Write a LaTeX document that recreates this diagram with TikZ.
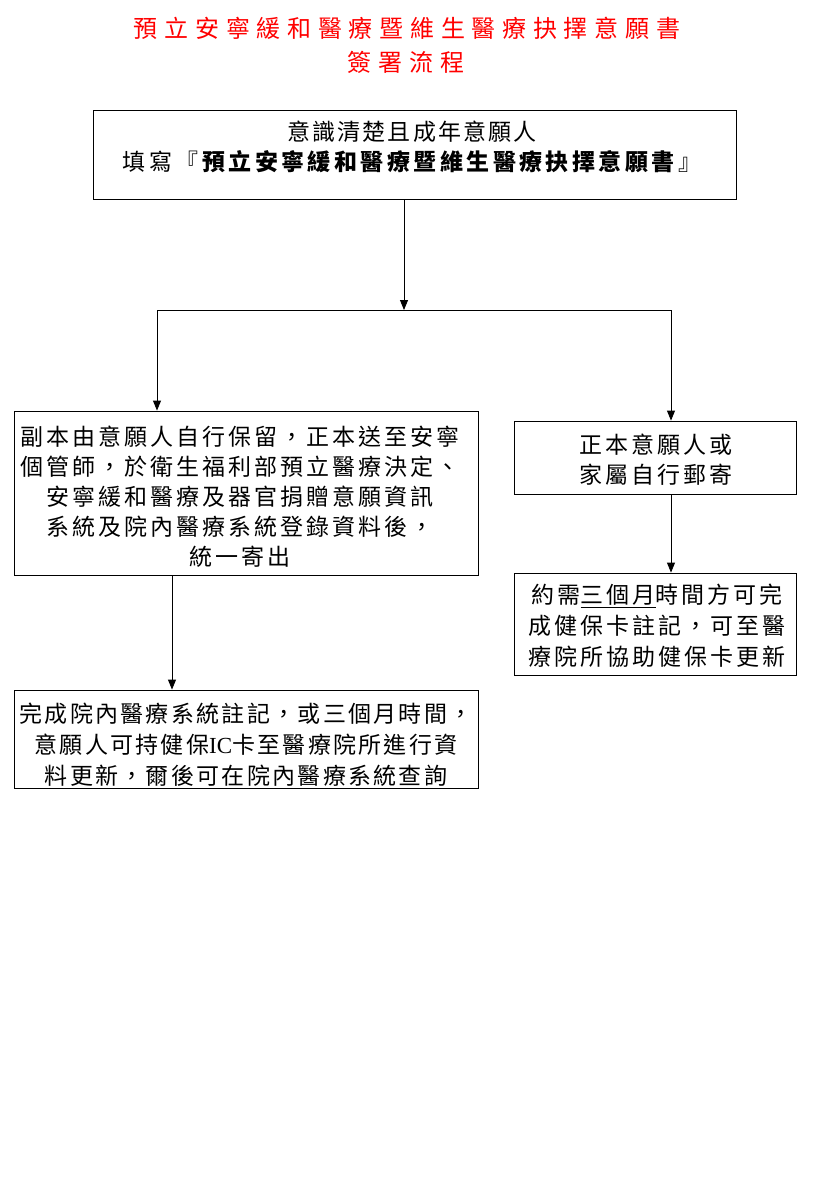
\documentclass[tikz,border=0pt]{standalone}
\usepackage{fontspec}
\usetikzlibrary{arrows.meta}
\setmainfont{Noto Sans CJK TC}
\newfontfamily\cjkttl[LetterSpace=28]{Noto Sans CJK TC}
\newfontfamily\cjka[LetterSpace=13]{Noto Sans CJK TC}
\newfontfamily\cjkb[LetterSpace=10]{Noto Sans CJK TC}
\newfontfamily\cjkc[LetterSpace=9]{Noto Sans CJK TC}
\newfontfamily\cjkd[LetterSpace=15]{Noto Sans CJK TC}
\newfontfamily\latinserif{Liberation Serif}
\definecolor{titlered}{RGB}{255,0,0}
\begin{document}
\begin{tikzpicture}[x=1pt,y=-1pt,
  box/.style={draw,line width=0.85pt,inner sep=0pt},
  txt/.style={inner sep=0pt,align=center},
  ttl/.style={text=titlered,align=center,inner sep=0pt,
    font=\cjkttl\fontsize{24}{34}\selectfont},
  arr/.style={line width=0.85pt,-{Triangle[width=8pt,length=10pt]}},
  conn/.style={line width=0.85pt}]
\useasboundingbox (0,0) rectangle (840,1200);
% title
\node[ttl] (t1) at (407,28) {預立安寧緩和醫療暨維生醫療抉擇意願書};
\node[ttl] (t2) at (406,62) {簽署流程};
% boxes
\node[box,minimum width=643pt,minimum height=89pt] (b1) at (414.5,154.5) {};
\node[txt,font=\cjkc\fontsize{23}{30}\selectfont] (b1t) at (412,147)
  {意識清楚且成年意願人\\
   {\cjkd 填寫『\textbf{預立安寧緩和醫療暨維生醫療抉擇意願書}』}};
\node[box,minimum width=464pt,minimum height=164pt] (L1) at (246,493) {};
\node[txt,font=\cjka\fontsize{23}{30}\selectfont] (L1t) at (240,497)
  {副本由意願人自行保留，正本送至安寧\\
   個管師，於衛生福利部預立醫療決定、\\
   安寧緩和醫療及器官捐贈意願資訊\\
   系統及院內醫療系統登錄資料後，\\
   統一寄出};
\node[box,minimum width=282pt,minimum height=73pt] (R1) at (655,457.5) {};
\node[txt,font=\cjka\fontsize{23}{30}\selectfont] (R1t) at (656,460)
  {正本意願人或\\家屬自行郵寄};
\node[box,minimum width=282pt,minimum height=102pt] (R2) at (655,624) {};
\node[txt,font=\cjka\fontsize{23}{31}\selectfont] (R2t) at (657,626)
  {約需\underline{三個月}時間方可完\\成健保卡註記，可至醫\\療院所協助健保卡更新};
\node[box,minimum width=464pt,minimum height=98pt] (L2) at (246,739) {};
\node[txt,font=\cjkb\fontsize{23}{31}\selectfont] (L2t) at (246,745)
  {完成院內醫療系統註記，或三個月時間，\\
   意願人可持健保{\latinserif IC}卡至醫療院所進行資\\
   料更新，爾後可在院內醫療系統查詢};
% connectors
\coordinate (J) at (404,310);
\coordinate (JL) at (157,310);
\coordinate (JR) at (671,310);
\coordinate (K) at (172,600);
\draw[arr] (J |- b1.south) -- (J);
\draw[conn] (JL) -- (JR);
\draw[arr] (JL) -- (JL |- L1.north);
\draw[arr] (JR) -- (JR |- R1.north);
\draw[arr] (R1.south -| JR) -- (R2.north -| JR);
\draw[arr] (L1.south -| K) -- (L2.north -| K);
\end{tikzpicture}
\end{document}
